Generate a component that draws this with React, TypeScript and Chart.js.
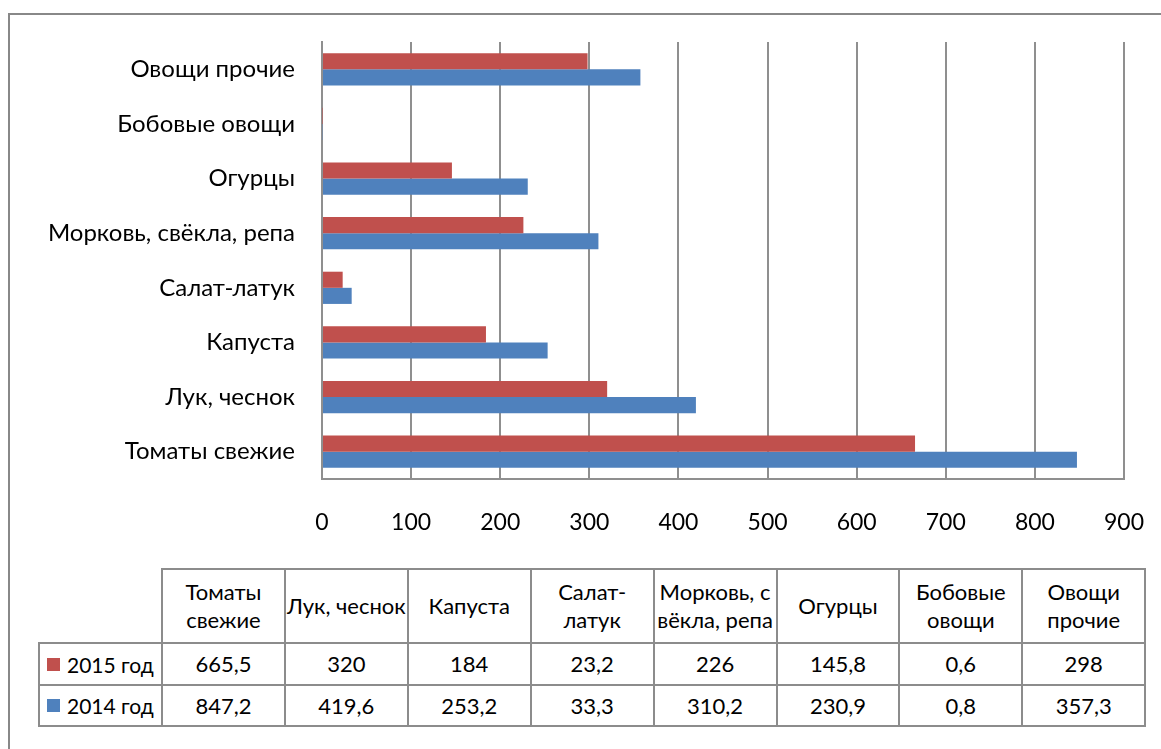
import React, { useEffect, useRef } from "react";
import { Chart, registerables } from "chart.js";

Chart.register(...registerables);

const categories = [
  "Томаты свежие",
  "Лук, чеснок",
  "Капуста",
  "Салат-латук",
  "Морковь, свёкла, репа",
  "Огурцы",
  "Бобовые овощи",
  "Овощи прочие",
];
const tableHeaders = [
  "Томаты\nсвежие",
  "Лук, чеснок",
  "Капуста",
  "Салат-\nлатук",
  "Морковь, с\nвёкла, репа",
  "Огурцы",
  "Бобовые\nовощи",
  "Овощи\nпрочие",
];
const series2015 = [665.5, 320, 184, 23.2, 226, 145.8, 0.6, 298];
const series2014 = [847.2, 419.6, 253.2, 33.3, 310.2, 230.9, 0.8, 357.3];
const label2015 = "2015 год";
const label2014 = "2014 год";
const xTicks = [0, 100, 200, 300, 400, 500, 600, 700, 800, 900];

const RED = "#C0504D";
const BLUE = "#4F81BD";
const GRID = "#8f8f8f";
const FONT = "Lato, 'Open Sans', sans-serif";

const fmt = (v: number) => String(v).replace(".", ",");

export default function App() {
  const ref = useRef<HTMLCanvasElement | null>(null);

  useEffect(() => {
    if (!ref.current) return;
    const chart = new Chart(ref.current, {
      type: "bar",
      data: {
        labels: categories,
        datasets: [
          { label: label2015, data: series2015, backgroundColor: RED, borderWidth: 0 },
          { label: label2014, data: series2014, backgroundColor: BLUE, borderWidth: 0 },
        ],
      },
      options: {
        indexAxis: "y",
        responsive: false,
        animation: false,
        events: [],
        datasets: { bar: { categoryPercentage: 0.59, barPercentage: 1 } },
        layout: { padding: { left: 0, top: 42, right: 37, bottom: 0 } },
        plugins: { legend: { display: false }, tooltip: { enabled: false } },
        scales: {
          y: {
            reverse: true,
            grid: { display: false, drawTicks: false },
            border: { display: true, color: GRID, width: 2 },
            ticks: { color: "#000", font: { family: FONT, size: 24 }, padding: 27 },
            afterFit: (s: any) => {
              s.width = 322;
              s.paddingTop = 0;
              s.paddingBottom = 0;
            },
          },
          x: {
            min: 0,
            max: 900,
            afterBuildTicks: (s: any) => {
              s.ticks = xTicks.map((v) => ({ value: v }));
            },
            grid: { display: true, color: GRID, lineWidth: 2, drawTicks: false },
            border: { display: true, color: GRID, width: 2 },
            ticks: { color: "#000", font: { family: FONT, size: 23 }, padding: 30 },
            afterFit: (s: any) => {
              s.height = 550 - 479;
              s.paddingLeft = 0;
              s.paddingRight = 0;
            },
          },
        },
      },
    });
    return () => chart.destroy();
  }, []);

  const colW = 122.9;
  const x0 = 162;
  const xEnd = 1145;
  const rowsY = [569, 643, 685, 726];
  const line = "#8c8c8c";

  const lines: React.ReactNode[] = [];
  lines.push(<div key="h0" style={{ position: "absolute", left: x0, top: rowsY[0] - 1, width: xEnd - x0, height: 2, background: line }} />);
  for (let i = 1; i < 4; i++) {
    lines.push(<div key={"h" + i} style={{ position: "absolute", left: 39, top: rowsY[i] - 1, width: xEnd - 39, height: 2, background: line }} />);
  }
  lines.push(<div key="vl" style={{ position: "absolute", left: 38, top: rowsY[1] - 1, width: 2, height: rowsY[3] - rowsY[1] + 2, background: line }} />);
  for (let i = 0; i <= 8; i++) {
    const x = x0 + i * colW;
    lines.push(<div key={"v" + i} style={{ position: "absolute", left: x - 1, top: rowsY[0] - 1, width: 2, height: rowsY[3] - rowsY[0] + 2, background: line }} />);
  }

  const cellStyle = (i: number, r: number): React.CSSProperties => ({
    position: "absolute",
    left: x0 + i * colW,
    top: rowsY[r],
    width: colW,
    height: rowsY[r + 1] - rowsY[r],
    display: "flex",
    alignItems: "center",
    justifyContent: "center",
    textAlign: "center",
    whiteSpace: "pre",
    lineHeight: "28px",
    fontFamily: FONT,
    fontSize: 22,
    color: "#000",
  });

  return (
    <div style={{ position: "absolute", left: 0, top: 0, width: 1161, height: 749, background: "#fff", overflow: "hidden" }}>
      <div style={{ position: "absolute", left: 8, top: 13, width: 1200, height: 800, borderLeft: `2px solid #888`, borderTop: `2px solid #888` }} />
      <canvas ref={ref} width={1161} height={550} style={{ position: "absolute", left: 0, top: 0, width: 1161, height: 550 }} />
      {lines}
      {tableHeaders.map((h, i) => (
        <div key={"th" + i} style={cellStyle(i, 0)}>{h}</div>
      ))}
      {series2015.map((v, i) => (
        <div key={"a" + i} style={cellStyle(i, 1)}>{fmt(v)}</div>
      ))}
      {series2014.map((v, i) => (
        <div key={"b" + i} style={cellStyle(i, 2)}>{fmt(v)}</div>
      ))}
      {[
        { label: label2015, color: RED, r: 1 },
        { label: label2014, color: BLUE, r: 2 },
      ].map((k) => (
        <div key={k.label} style={{ position: "absolute", left: 47, top: rowsY[k.r], height: rowsY[k.r + 1] - rowsY[k.r], display: "flex", alignItems: "center", fontFamily: FONT, fontSize: 21, color: "#000", whiteSpace: "pre" }}>
          <span style={{ display: "inline-block", width: 13, height: 13, background: k.color, marginRight: 7 }} />
          {k.label}
        </div>
      ))}
    </div>
  );
}
